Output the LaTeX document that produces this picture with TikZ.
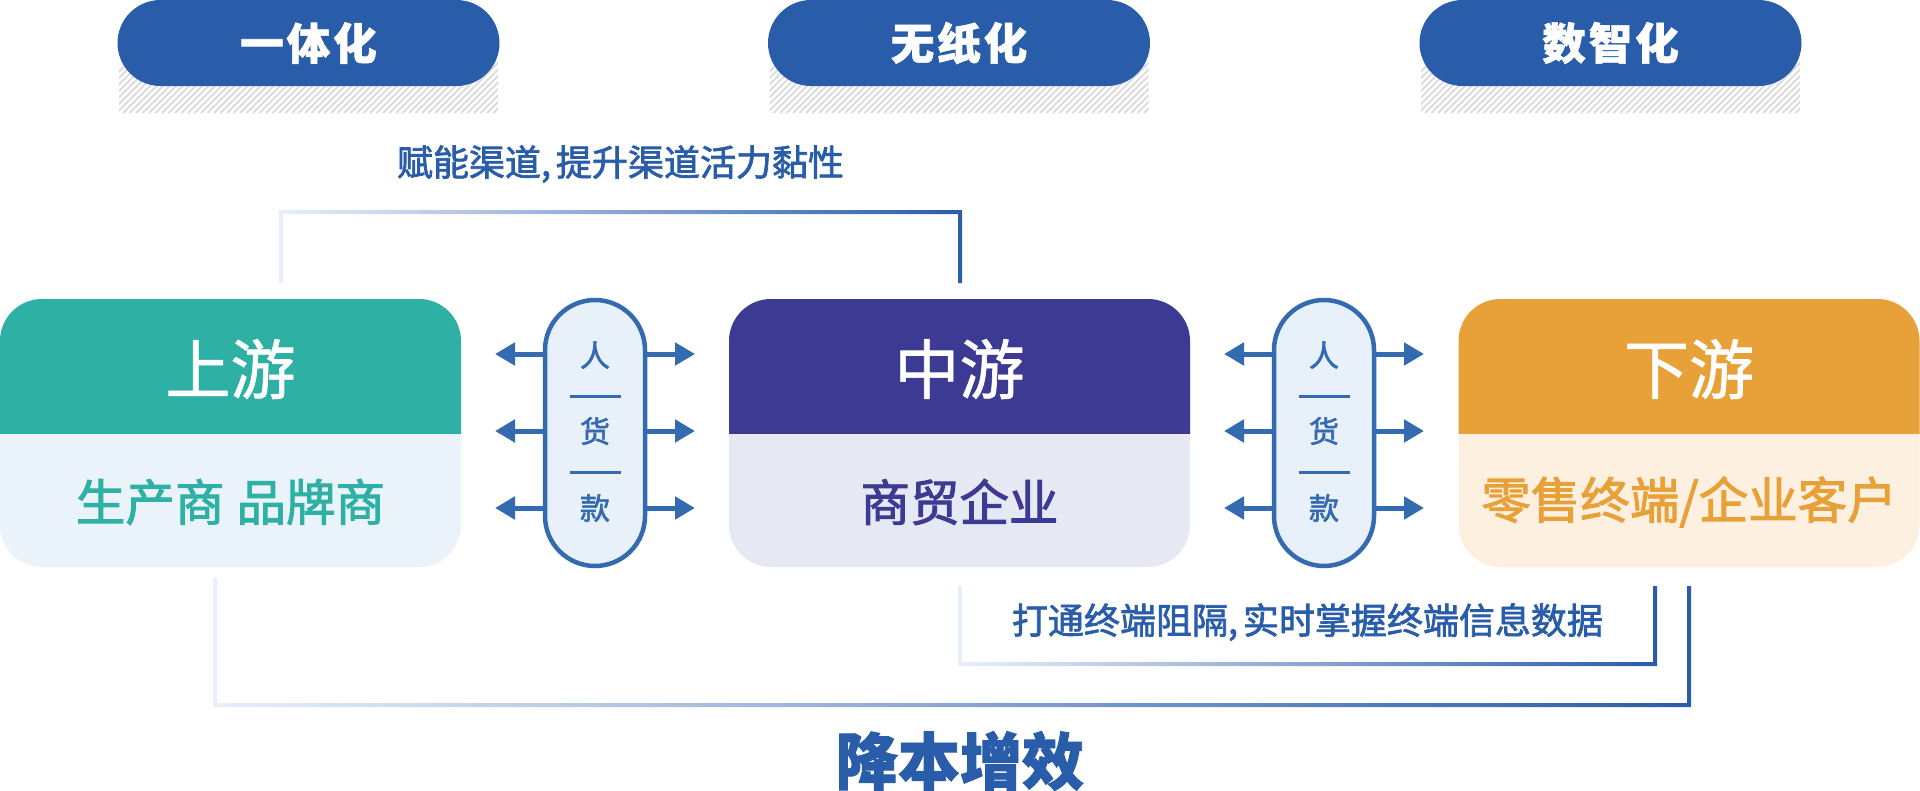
\documentclass[tikz,border=0pt]{standalone}
\usepackage{fontspec}
\usetikzlibrary{arrows.meta,calc}
\setmainfont{Noto Sans CJK SC}
\newfontfamily\cjkm[FakeBold=1]{Noto Sans CJK SC}
\newfontfamily\cjkn[FakeBold=2]{Noto Sans CJK SC}
\newfontfamily\cjkh[BoldFeatures={FakeBold=1.4}]{Noto Sans CJK SC}
\definecolor{brand}{HTML}{295DA9}
\definecolor{flowblue}{HTML}{346AB0}
\definecolor{capfill}{HTML}{E8F0FA}
\definecolor{tealh}{HTML}{2FB0A5}
\definecolor{teall}{HTML}{EBF3FA}
\definecolor{navyh}{HTML}{3C3A92}
\definecolor{navyl}{HTML}{E6E9F4}
\definecolor{orah}{HTML}{E8A138}
\definecolor{oral}{HTML}{FDF0E0}
\definecolor{hatchgray}{HTML}{DCDCDC}
\definecolor{gradl}{HTML}{E8EEFA}
\definecolor{gradm}{HTML}{A2ADDB}
\definecolor{gradr}{HTML}{2B5CA9}
\newcommand{\fs}[1]{\fontsize{#1}{#1}\selectfont}
\tikzset{
  pill/.style={fill=brand,rounded corners=43pt,minimum width=382pt,minimum height=86pt,inner sep=0pt,outer sep=0pt,text=white,font={\cjkh\bfseries\fs{43.5}}},
  panel/.style={rounded corners=42pt,minimum width=461pt,minimum height=268pt,inner sep=0pt,outer sep=0pt},
  capsule/.style={draw=flowblue,fill=capfill,line width=4.5pt,rounded corners=50pt,minimum width=100pt,minimum height=266pt,inner sep=0pt,outer sep=0pt},
  flow/.style={draw=flowblue,line width=5pt,-{Triangle[length=20pt,width=22pt]}},
  divider/.style={draw=flowblue,line width=3pt},
  captext/.style={text=flowblue,font={\cjkn\fs{30}},inner sep=0pt},
  head/.style={text=white,font={\cjkm\fs{65}},inner sep=0pt},
  sub/.style={font={\cjkn\fs{49.5}},inner sep=0pt},
  note/.style={text=brand,font={\cjkn\fs{36}},inner sep=0pt},
  gradline/.style={left color=gradl,middle color=gradm,right color=gradr,draw=none},
}
% #1 panel name, #2 centre x, #3 head colour, #4 light colour, #5 head text, #6 sub text, #7 sub colour
\newcommand{\panelbox}[7]{
  \node[panel,fill=#4] (#1) at (#2,433) {};
  \begin{scope}
    \clip (#1.north west) rectangle (#1.east);
    \fill[#3,rounded corners=42pt] (#1.north west) rectangle (#1.south east);
  \end{scope}
  \node[head] (#1h) at (#2,369) {#5};
  \node[sub,text=#7] (#1s) at (#2,502) {#6};
}
% #1 capsule name, #2 centre x
\newcommand{\tradebox}[2]{
  \node[capsule] (#1) at (#2,433) {};
  \node[captext] (#1a) at (#2,355) {人};
  \node[captext] (#1b) at (#2,431) {货};
  \node[captext] (#1c) at (#2,508) {款};
  \coordinate (#1d1l) at (#2-25.5,396); \coordinate (#1d1r) at (#2+25.5,396);
  \coordinate (#1d2l) at (#2-25.5,472); \coordinate (#1d2r) at (#2+25.5,472);
  \draw[divider] (#1d1l) -- (#1d1r);
  \draw[divider] (#1d2l) -- (#1d2r);
  \foreach \yy [count=\ii] in {354,431,508}{
    \coordinate (#1L\ii) at (#2-100,\yy);
    \coordinate (#1R\ii) at (#2+100,\yy);
    \draw[flow] (#1.west |- #1L\ii) -- (#1L\ii);
    \draw[flow] (#1.east |- #1R\ii) -- (#1R\ii);
  }
}
% #1 name #2 left x #3 label
\newcommand{\tagpill}[3]{
  \begin{scope}
    \clip (#2+1.5,60) rectangle (#2+380.5,113);
    \foreach \hh in {0,6.5,...,430}{
      \draw[hatchgray,line width=2pt] (#2+\hh-40,113) -- (#2+\hh+13,60);
    }
  \end{scope}
  \node[pill] (#1) at (#2+191,43) {\raisebox{-1pt}{#3}};
}
\begin{document}
\begin{tikzpicture}[x=1pt,y=-1pt]
\useasboundingbox (0,0) rectangle (1920,790);

\tagpill{tagA}{117.5}{一\kern3pt体\kern3pt化}
\tagpill{tagB}{768}{无\kern3pt纸\kern3pt化}
\tagpill{tagC}{1419.5}{数\kern3pt智\kern3pt化}

\panelbox{up}{230.5}{tealh}{teall}{上游}{生产商\kern12pt品牌商}{tealh}
\panelbox{mid}{959.5}{navyh}{navyl}{中游}{商贸企业}{navyh}
\panelbox{down}{1689}{orah}{oral}{下游}{零售终端/企业客户}{orah}

\tradebox{capA}{595}
\tradebox{capB}{1324}

% top bracket
\coordinate (tl) at (281,283);
\coordinate (tr) at (960,283);
\coordinate (tcl) at (281,212);
\coordinate (tcr) at (960,212);
\shade[gradline] ([xshift=-2pt]tl) -- ([xshift=-2pt,yshift=2pt]tcl) -- ([xshift=2pt,yshift=2pt]tcr) -- ([xshift=2pt]tr) -- ([xshift=-2pt]tr) -- ([xshift=-2pt,yshift=-2pt]tcr) -- ([xshift=2pt,yshift=-2pt]tcl) -- ([xshift=2pt]tl) -- cycle;

% inner bottom bracket
\coordinate (il) at (960,586);
\coordinate (ir) at (1655,586);
\coordinate (icl) at (960,664);
\coordinate (icr) at (1655,664);
\shade[gradline] ([xshift=-2pt]il) -- ([xshift=-2pt,yshift=-2pt]icl) -- ([xshift=2pt,yshift=-2pt]icr) -- ([xshift=2pt]ir) -- ([xshift=-2pt]ir) -- ([xshift=-2pt,yshift=2pt]icr) -- ([xshift=2pt,yshift=2pt]icl) -- ([xshift=2pt]il) -- cycle;

% outer bottom bracket
\coordinate (ol) at (215,578);
\coordinate (or) at (1689,586);
\coordinate (ocl) at (215,705);
\coordinate (ocr) at (1689,705);
\shade[gradline] ([xshift=-2pt]ol) -- ([xshift=-2pt,yshift=-2pt]ocl) -- ([xshift=2pt,yshift=-2pt]ocr) -- ([xshift=2pt]or) -- ([xshift=-2pt]or) -- ([xshift=-2pt,yshift=2pt]ocr) -- ([xshift=2pt,yshift=2pt]ocl) -- ([xshift=2pt]ol) -- cycle;

\node[note] (noteA) at (620.5,164) {赋能渠道,\kern5pt提升渠道活力黏性};
\node[note] (noteB) at (1307.5,622) {打通终端阻隔,\kern5pt实时掌握终端信息数据};
\node[text=brand,font={\cjkh\bfseries\fs{62}},inner sep=0pt] (title) at (960,761) {降本增效};
\end{tikzpicture}
\end{document}
